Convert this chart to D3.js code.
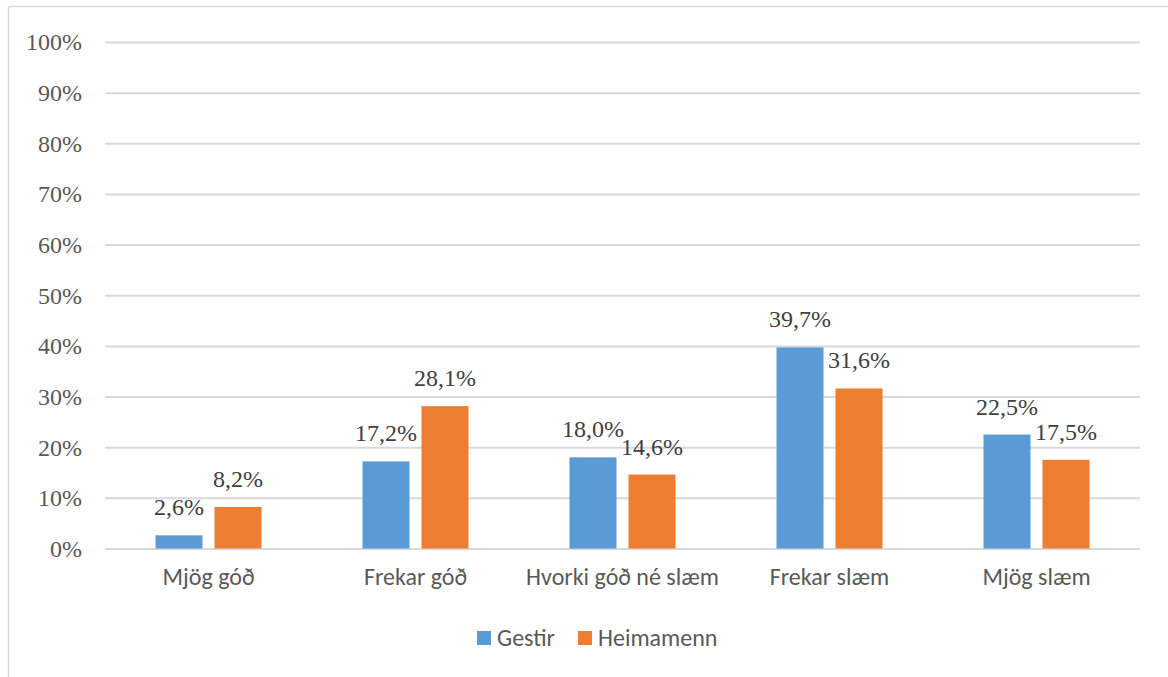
<!DOCTYPE html>
<html>
<head>
<meta charset="utf-8">
<script src="https://cdn.jsdelivr.net/npm/d3@7"></script>
<style>
  html, body { margin: 0; padding: 0; background: #fff; }
  svg { display: block; }
</style>
</head>
<body>
<svg id="chart" width="1168" height="677"></svg>
<script>
const categories = ["Mjög góð", "Frekar góð", "Hvorki góð né slæm", "Frekar slæm", "Mjög slæm"];
const seriesNames = ["Gestir", "Heimamenn"];
const gestir = [2.6, 17.2, 18.0, 39.7, 22.5];
const heimamenn = [8.2, 28.1, 14.6, 31.6, 17.5];
const yTicks = [0, 10, 20, 30, 40, 50, 60, 70, 80, 90, 100];
const colors = ["#5B9BD5", "#ED7D31"];

const SERIF = '"Liberation Serif"';
const SANS = 'Carlito';

const svg = d3.select("#chart");
const W = 1168, H = 677;
const plot = { left: 105, right: 1140, top: 42, bottom: 548.5 };

// frame
svg.append("line").attr("x1", 8.5).attr("x2", W).attr("y1", 6.5).attr("y2", 6.5)
  .attr("stroke", "#d9d9d9").attr("stroke-width", 1.5);
svg.append("line").attr("x1", 8.5).attr("x2", 8.5).attr("y1", 6.5).attr("y2", H)
  .attr("stroke", "#d9d9d9").attr("stroke-width", 1.5);

const x = d3.scaleBand().domain(categories).range([plot.left, plot.right]).paddingInner(0).paddingOuter(0);
const xs = d3.scaleBand().domain(seriesNames).range([0, x.bandwidth()])
  .paddingInner(12 / 59).paddingOuter(0.856);
const y = d3.scaleLinear().domain([0, 100]).range([plot.bottom, plot.top]);

// gridlines + y labels
const yAxis = d3.axisLeft(y).tickValues(yTicks).tickSize(-(plot.right - plot.left))
  .tickFormat(d => d + "%").tickPadding(23);
const gy = svg.append("g").attr("transform", `translate(${plot.left},0)`).call(yAxis)
  .attr("font-family", null).attr("font-size", null);
gy.select(".domain").remove();
gy.selectAll(".tick line").attr("stroke", "#d9d9d9").attr("stroke-width", 2);
gy.selectAll(".tick text")
  .style("font-family", SERIF).style("font-size", "24px")
  .attr("fill", "#595959").attr("dy", "0.33em");

// bars
const data = categories.map((c, i) => ({ cat: c, vals: [gestir[i], heimamenn[i]] }));
const groups = svg.selectAll(".grp").data(data).join("g")
  .attr("transform", d => `translate(${x(d.cat)},0)`);
groups.selectAll("rect").data(d => d.vals.map((v, j) => ({ s: seriesNames[j], v, j })))
  .join("rect")
  .attr("x", d => xs(d.s)).attr("width", xs.bandwidth())
  .attr("y", d => y(d.v)).attr("height", d => y(0) - y(d.v))
  .attr("fill", d => colors[d.j]);
groups.selectAll("text.lbl").data(d => d.vals.map((v, j) => ({ s: seriesNames[j], v, j })))
  .join("text").attr("class", "lbl")
  .attr("x", d => xs(d.s) + xs.bandwidth() / 2)
  .attr("y", d => y(d.v) - 20)
  .attr("text-anchor", "middle")
  .style("font-family", SERIF).style("font-size", "24px")
  .attr("fill", "#404040")
  .text(d => d.v.toFixed(1).replace(".", ",") + "%");

// x axis labels
const xAxis = d3.axisBottom(x).tickSize(0).tickPadding(0);
const gx = svg.append("g").attr("transform", `translate(0,${plot.bottom})`).call(xAxis)
  .attr("font-family", null).attr("font-size", null);
gx.select(".domain").remove();
gx.selectAll(".tick text")
  .style("font-family", SANS).style("font-size", "24px")
  .attr("fill", "#595959").attr("dy", 0).attr("y", 36);

// legend
const legend = svg.append("g");
const legX = [477, 578];
seriesNames.forEach((s, i) => {
  legend.append("rect").attr("x", legX[i]).attr("y", 631).attr("width", 14).attr("height", 14)
    .attr("fill", colors[i]);
  legend.append("text").attr("x", legX[i] + 20).attr("y", 646)
    .style("font-family", SANS).style("font-size", "24px")
    .attr("fill", "#595959").text(s);
});
</script>
</body>
</html>
